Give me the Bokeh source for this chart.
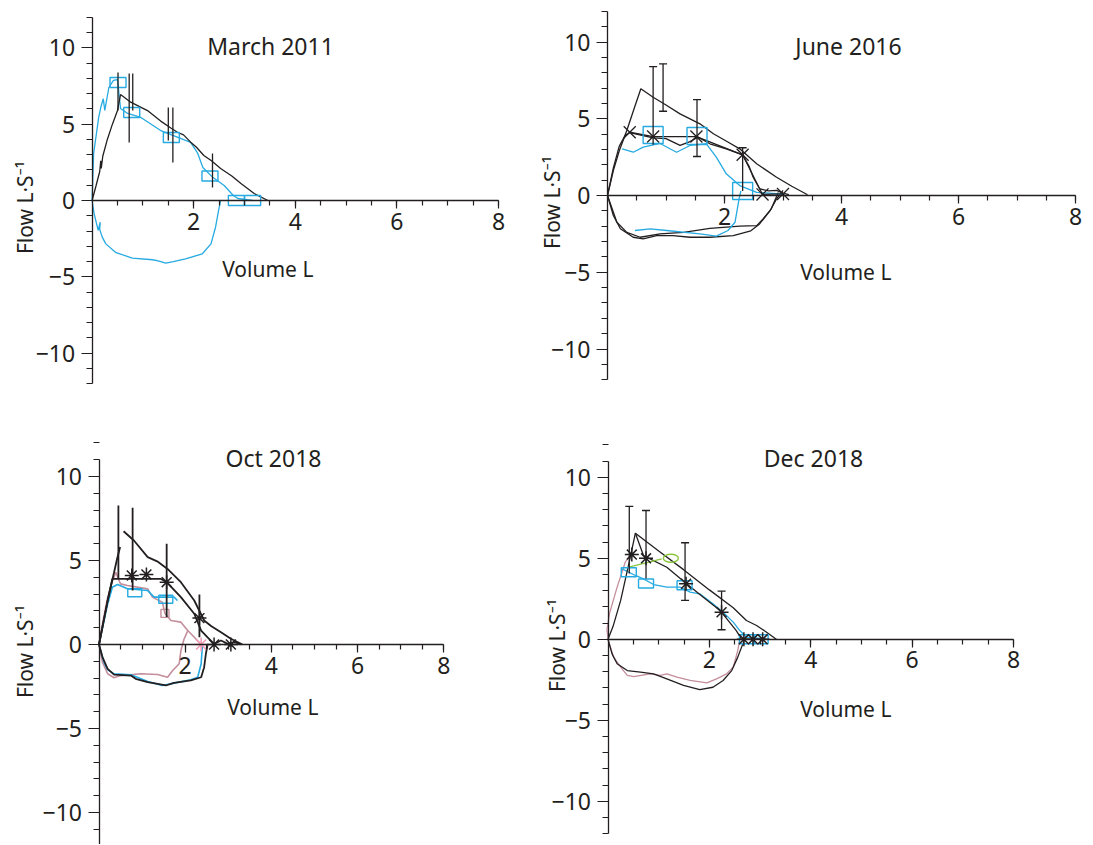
import numpy as np
from bokeh.plotting import figure
from bokeh.layouts import column, row
from bokeh.models import FixedTicker, Label
from bokeh.embed import file_html
from bokeh.resources import INLINE

FONT = "Noto Sans"
BLACK = "#231f20"
BLUE = "#27aae1"
PINK = "#c48e9c"
PINK_STAR = "#f29bb3"
GREEN = "#8cc63f"

# ---------------- axis ticks ----------------
x_major_ticks = [2, 4, 6, 8]
x_minor_ticks = [0.5, 1, 1.5, 2, 2.5, 3, 3.5, 4, 4.5, 5, 5.5, 6, 6.5, 7, 7.5, 8]
y_major_ticks = [-10, -5, 0, 5, 10]
y_minor_ticks = [-12, -11, -10, -9, -8, -7, -6, -5, -4, -3, -2, -1, 0,
                 1, 2, 3, 4, 5, 6, 7, 8, 9, 10, 11, 12]
y_label_overrides = {-10: "\u221210", -5: "\u22125"}

# ---------------- March 2011 ----------------
m11_black_x = [0, 0.08, 0.15, 0.17, 0.18, 0.21, 0.3, 0.4, 0.5, 0.56, 0.76, 1.09, 1.35, 1.55, 1.68, 1.8,
               1.94, 2.05, 2.2, 2.35, 2.53, 2.75, 2.93, 3.19, 3.46]
m11_black_y = [0, 1.0, 1.9, 2.6, 2.1, 2.9, 4.0, 5.0, 5.9, 6.94, 6.44, 5.89, 5.2, 4.75, 4.47, 4.3,
               3.82, 3.5, 2.95, 2.6, 2.1, 1.6, 1.11, 0.46, 0.0]
m11_blue_exp_x = [0, 0.03, 0.13, 0.17, 0.22, 0.25, 0.33, 0.42, 0.5, 0.56, 0.7, 0.96, 1.35, 1.69, 1.94,
                  2.08, 2.18, 2.38, 2.6, 2.78, 2.87, 3.16]
m11_blue_exp_y = [0, 3.08, 5.44, 6.09, 6.66, 5.9, 7.4, 7.86, 7.92, 6.02, 5.7, 5.44, 4.58, 4.13, 3.8,
                  3.08, 2.16, 1.5, 0.98, 0.33, 0.13, 0.0]
m11_blue_insp_x = [0, 0.04, 0.12, 0.16, 0.15, 0.2, 0.27, 0.46, 0.79, 1.19, 1.3, 1.45, 1.6, 1.84, 2.17,
                   2.34, 2.43, 2.49, 2.53]
m11_blue_insp_y = [0, -0.87, -1.95, -1.42, -1.9, -2.4, -2.84, -3.39, -3.78, -3.88, -3.95, -4.1, -4.0,
                   -3.82, -3.49, -2.84, -1.75, -0.65, 0]
m11_box_x = [0.51, 0.78, 1.56, 2.32, 2.84, 3.16]
m11_box_y = [7.73, 5.76, 4.13, 1.6, 0.0, 0.0]
m11_err_x = [0.51, 0.73, 0.80, 1.5, 1.59, 2.37]
m11_err_hi = [8.38, 8.32, 8.32, 6.09, 6.09, 3.08]
m11_err_lo = [5.89, 3.8, 5.89, 3.93, 2.49, 0.85]

# ---------------- June 2016 ----------------
j16_outer_x = [0, 0.1, 0.2, 0.33, 0.45, 0.57, 0.78, 1.0, 1.24, 1.58, 1.81, 2.05, 2.26, 2.55, 2.89, 3.15, 3.42]
j16_outer_y = [0, 1.63, 2.9, 4.23, 5.6, 6.95, 6.4, 5.9, 5.32, 4.67, 4.02, 3.5, 3.04, 2.07, 1.19, 0.6, 0.05]
j16_inner_x = [0, 0.1, 0.2, 0.3, 0.38, 0.55, 0.78, 1.0, 1.24, 1.4, 1.55, 1.75, 2.03, 2.31, 2.42, 2.49,
               2.6, 2.75, 2.89, 3.0, 3.1]
j16_inner_y = [0, 1.8, 3.2, 3.9, 4.1, 3.95, 3.75, 3.7, 3.26, 3.5, 3.8, 3.37, 3.04, 2.65, 1.9, 1.19,
               0.44, 0.3, 0.33, 0.15, 0.05]
j16_mark_x = [0.38, 0.78, 1.52, 2.31, 2.65, 3.0]
j16_mark_y = [4.12, 3.84, 3.84, 2.65, 0.07, 0.1]
j16_blue_exp_x = [0.25, 0.44, 0.61, 0.9, 1.18, 1.41, 1.69, 1.86, 2.03, 2.26, 2.55, 2.94, 3.03]
j16_blue_exp_y = [3.04, 2.82, 3.15, 3.39, 2.82, 3.26, 3.37, 2.5, 1.41, 0.65, 0.21, 0.11, 0.0]
j16_blue_insp_x = [2.28, 2.25, 2.18, 2.06, 1.86, 1.58, 1.01, 0.73, 0.47]
j16_blue_insp_y = [0.3, -0.21, -1.74, -2.28, -2.65, -2.5, -2.28, -2.17, -2.28]
j16_loopA_x = [0, 0.1, 0.22, 0.44, 0.61, 0.84, 1.12, 1.41, 1.75, 2.15, 2.45, 2.6, 2.78, 2.89, 3.0]
j16_loopA_y = [0, -1.3, -2.17, -2.72, -2.83, -2.61, -2.61, -2.72, -2.72, -2.61, -2.3, -1.85, -0.98, -0.22, 0.33]
j16_loopB_x = [0, 0.16, 0.33, 0.56, 0.9, 1.3, 1.75, 2.26, 2.55, 2.66, 2.8, 2.86, 2.92]
j16_loopB_y = [0, -1.74, -2.4, -2.72, -2.5, -2.4, -2.14, -2.0, -1.96, -1.52, -0.87, -0.33, 0.2]
j16_box_x = [0.78, 1.53, 2.31]
j16_box_y = [3.94, 3.88, 0.29]
j16_err_x = [0.78, 0.95, 1.53, 2.31]
j16_err_hi = [8.4, 8.58, 6.25, 3.11]
j16_err_lo = [3.3, 5.49, 2.54, 0.3]

# ---------------- Oct 2018 ----------------
o18_rise_x = [0, 0.1, 0.2, 0.35, 0.42, 0.49]
o18_rise_y = [0, 1.3, 2.6, 4.3, 5.1, 5.8]
o18_outer_x = [0.57, 0.81, 1.13, 1.35, 1.59, 1.9, 2.21, 2.44, 2.6, 2.83, 3.06, 3.33]
o18_outer_y = [6.74, 6.19, 5.2, 4.95, 4.5, 3.71, 2.62, 1.43, 1.1, 0.73, 0.34, 0]
o18_inner_x = [0, 0.1, 0.2, 0.31, 0.6, 1.0, 1.43, 1.57, 1.9, 2.21, 2.37, 2.52, 2.67, 2.83, 2.99, 3.14, 3.3]
o18_inner_y = [0, 1.3, 2.6, 3.91, 3.91, 3.91, 3.91, 3.71, 2.82, 1.83, 0.83, 0.43, 0.04, 0.24, 0.04, 0.14, 0]
o18_black_insp_x = [0, 0.08, 0.2, 0.35, 0.74, 0.85, 1.13, 1.36, 1.55, 1.74, 2.13, 2.37, 2.44, 2.48, 2.52]
o18_black_insp_y = [0, -0.75, -1.45, -1.79, -1.85, -2.04, -2.24, -2.34, -2.44, -2.28, -2.14, -1.95, -1.35, -0.55, 0]
o18_blue_exp_x = [0, 0.1, 0.2, 0.31, 0.43, 0.66, 1.13, 1.28, 1.74, 1.82]
o18_blue_exp_y = [0, 1.2, 2.4, 3.41, 3.57, 3.32, 3.21, 2.82, 2.82, 2.62]
o18_blue_insp_x = [0, 0.12, 0.2, 0.35, 0.74, 1.13, 1.47, 1.74, 2.13, 2.29, 2.37, 2.4]
o18_blue_insp_y = [0, -1.1, -1.5, -1.75, -1.8, -2.2, -2.44, -2.3, -2.1, -1.95, -1.15, 0]
o18_pink_exp_x = [0, 0.1, 0.2, 0.3, 0.39, 0.45, 0.5, 0.66, 1.13, 1.24, 1.47, 1.53, 1.67, 1.9, 2.06, 2.21, 2.37]
o18_pink_exp_y = [0, 1.5, 2.8, 3.7, 4.3, 3.9, 3.61, 3.51, 3.31, 2.82, 2.52, 1.85, 1.43, 1.33, 0.83, 0.43, 0]
o18_pink_insp_x = [0, 0.08, 0.2, 0.35, 0.5, 0.97, 1.36, 1.59, 1.71, 1.86, 1.9, 1.97, 2.06]
o18_pink_insp_y = [0, -1.05, -1.74, -1.98, -1.85, -1.74, -1.79, -1.95, -1.55, -1.15, -0.36, 0.3, 0.83]
o18_star_x = [0.76, 1.1, 1.57, 2.33, 2.67, 3.06]
o18_star_y = [4.11, 4.17, 3.71, 1.57, 0, 0]
o18_pink_star_x = [2.37]
o18_pink_star_y = [0]
o18_box_x = [0.83, 1.55]
o18_box_y = [3.08, 2.69]
o18_pink_box_x = [1.53]
o18_pink_box_y = [1.85]
o18_err_x = [0.45, 0.78, 1.57, 2.33]
o18_err_hi = [8.27, 8.14, 5.99, 2.98]
o18_err_lo = [3.91, 3.21, 1.63, 0.43]

# ---------------- Dec 2018 ----------------
d18_outer_x = [0, 0.1, 0.25, 0.44, 0.54, 1.0, 1.49, 2.0, 2.47, 2.73, 2.93, 3.1, 3.32]
d18_outer_y = [0, 0.8, 2.4, 5.07, 6.55, 5.45, 4.3, 3.05, 1.95, 1.16, 0.85, 0.5, 0]
d18_inner_x = [0.54, 0.7, 1.16, 1.55, 1.88, 2.21, 2.53, 2.63]
d18_inner_y = [6.55, 5.17, 4.45, 3.43, 2.6, 1.78, 0.54, 0.03]
d18_black_insp_x = [0, 0.08, 0.18, 0.38, 0.64, 0.9, 1.16, 1.49, 1.81, 2.07, 2.27, 2.44, 2.56, 2.66, 2.7]
d18_black_insp_y = [0, -0.9, -1.51, -1.93, -2.03, -2.13, -2.44, -2.85, -3.1, -2.96, -2.54, -1.93, -1.1, -0.28, 0]
d18_pink_exp_x = [0, -0.02, 0.03, 0.18, 0.34, 0.42]
d18_pink_exp_y = [0, 0.6, 1.6, 3.22, 4.76, 5.1]
d18_pink_insp_x = [0, 0.11, 0.25, 0.38, 0.51, 0.83, 1.03, 1.16, 1.36, 1.62, 1.95, 2.14, 2.34, 2.47, 2.56, 2.6]
d18_pink_insp_y = [0, -1.1, -1.72, -2.23, -2.3, -2.13, -2.23, -2.13, -2.34, -2.54, -2.69, -2.44, -2.13, -1.72, -0.69, 0]
d18_blue_x = [0.28, 0.54, 0.7, 0.9, 1.16, 1.42, 1.62, 1.81, 2.07, 2.27, 2.47, 2.6, 2.73, 3.12]
d18_blue_y = [4.35, 3.94, 3.73, 3.38, 3.22, 3.22, 2.91, 2.81, 2.19, 1.67, 1.06, 0.54, 0.13, 0.03]
d18_box_x = [0.41, 0.75, 1.51, 2.74, 3.01]
d18_box_y = [4.14, 3.44, 3.34, 0, 0]
d18_star_x = [0.47, 0.75, 1.54, 2.24, 2.68, 2.86, 3.05]
d18_star_y = [5.23, 5.0, 3.43, 1.67, 0, 0, 0]
d18_err_x = [0.42, 0.75, 1.52, 2.24]
d18_err_hi = [8.2, 7.95, 5.96, 2.97]
d18_err_lo = [4.06, 3.75, 2.4, 0.59]
d18_green_x = [0.41, 1.06]
d18_green_y = [4.45, 4.97]
d18_green_oval_x = [1.24]
d18_green_oval_y = [5.0]


def make_panel(ox, oy, w, h, x0, sx, y0, sy, ybounds):
    """ox, oy: page position of the figure; x0, y0: page pixel of data origin; sx, sy: px per unit."""
    xr = ((ox - x0) / sx, (ox + w - x0) / sx)
    yr = ((y0 - oy - h) / sy, (y0 - oy) / sy)
    p = figure(width=w, height=h, x_range=xr, y_range=yr, output_backend="svg",
               toolbar_location=None, min_border=0, outline_line_color=None,
               background_fill_color="white", border_fill_color="white")
    p.grid.visible = False
    xa = p.xaxis[0]
    ya = p.yaxis[0]
    xa.fixed_location = 0
    ya.fixed_location = 0
    xa.bounds = (0, 8)
    ya.bounds = ybounds
    xa.ticker = FixedTicker(ticks=x_major_ticks, minor_ticks=x_minor_ticks)
    ya.ticker = FixedTicker(ticks=y_major_ticks, minor_ticks=y_minor_ticks)
    ya.major_label_overrides = y_label_overrides
    for ax in (xa, ya):
        ax.axis_line_color = BLACK
        ax.axis_line_width = 1.3
        ax.major_tick_line_color = BLACK
        ax.minor_tick_line_color = BLACK
        ax.major_tick_line_width = 1.2
        ax.minor_tick_line_width = 1.2
        ax.major_tick_in = 0
        ax.minor_tick_in = 0
        ax.major_label_text_font = FONT
        ax.major_label_text_font_size = "23px"
        ax.major_label_text_color = BLACK
    xa.major_tick_out = 8
    xa.minor_tick_out = 5
    xa.major_label_standoff = 4
    ya.major_tick_out = 11
    ya.minor_tick_out = 6
    ya.major_label_standoff = 6
    geom = (x0, sx, y0, sy)
    return p, geom


def add_text(p, geom, px, py, text, size, angle=0.0, align="center", baseline="middle"):
    x0, sx, y0, sy = geom
    p.add_layout(Label(x=(px - x0) / sx, y=(y0 - py) / sy, text=text, angle=angle,
                       text_font=FONT, text_font_size=size, text_color=BLACK,
                       text_align=align, text_baseline=baseline))


def add_labels(p, geom, title, tpos, vpos, fpos):
    add_text(p, geom, tpos[0], tpos[1], title, "23px")
    add_text(p, geom, vpos[0], vpos[1], "Volume  L", "21px")
    add_text(p, geom, fpos[0], fpos[1], "Flow L\u00b7S\u207b\u00b9", "21px", angle=np.pi / 2)


def curve(p, xs, ys, color, width=1.3):
    p.line(xs, ys, line_color=color, line_width=width)


def boxes(p, xs, ys, w, h, color=BLUE):
    p.rect(xs, ys, width=w, height=h, width_units="screen", height_units="screen",
           fill_color=None, line_color=color, line_width=1.4)


def bars(p, xs, lo, hi, width=1.3):
    p.segment(x0=xs, y0=lo, x1=xs, y1=hi, line_color=BLACK, line_width=width)


def caps(p, xs, ys):
    p.scatter(xs, ys, marker="dash", size=8, line_color=BLACK, line_width=1.3)


W1, W2 = 538, 555
H1, H2 = 438, 406

# ---- Panel 1: March 2011 ----
p1, g1 = make_panel(0, 0, W1, H1, 91.6, 50.8, 200.0, 15.27, (-12, 12))
curve(p1, m11_blue_insp_x, m11_blue_insp_y, BLUE)
curve(p1, m11_blue_exp_x, m11_blue_exp_y, BLUE)
curve(p1, m11_black_x, m11_black_y, BLACK)
boxes(p1, m11_box_x, m11_box_y, 16, 10)
bars(p1, m11_err_x, m11_err_lo, m11_err_hi)
add_labels(p1, g1, "March 2011", (270, 45), (270, 268), (24, 207))

# ---- Panel 2: June 2016 ----
p2, g2 = make_panel(W1, 0, W2, H1, 607.0, 58.5, 195.0, 15.35, (-12, 12))
curve(p2, j16_loopA_x, j16_loopA_y, BLACK)
curve(p2, j16_loopB_x, j16_loopB_y, BLACK)
curve(p2, j16_blue_insp_x, j16_blue_insp_y, BLUE)
curve(p2, j16_blue_exp_x, j16_blue_exp_y, BLUE)
curve(p2, j16_outer_x, j16_outer_y, BLACK)
curve(p2, j16_inner_x, j16_inner_y, BLACK)
curve(p2, j16_mark_x, j16_mark_y, BLACK)
p2.scatter(j16_mark_x, j16_mark_y, marker="x", size=17, line_color=BLACK, line_width=1.3)
boxes(p2, j16_box_x, j16_box_y, 20, 17)
bars(p2, j16_err_x, j16_err_lo, j16_err_hi)
caps(p2, j16_err_x, j16_err_hi)
caps(p2, j16_err_x[1:3], j16_err_lo[1:3])
add_labels(p2, g2, "June 2016", (848, 45), (848, 271), (551, 202))

# ---- Panel 3: Oct 2018 ----
p3, g3 = make_panel(0, H1, W1, H2, 98.5, 43.1, 644.0, 16.8, (-12, 11))
curve(p3, o18_pink_insp_x, o18_pink_insp_y, PINK, 1.6)
curve(p3, o18_pink_exp_x, o18_pink_exp_y, PINK, 1.6)
curve(p3, o18_blue_insp_x, o18_blue_insp_y, BLUE, 1.6)
curve(p3, o18_blue_exp_x, o18_blue_exp_y, BLUE, 1.6)
curve(p3, o18_black_insp_x, o18_black_insp_y, BLACK, 1.8)
curve(p3, o18_rise_x, o18_rise_y, BLACK, 1.8)
curve(p3, o18_outer_x, o18_outer_y, BLACK, 1.8)
curve(p3, o18_inner_x, o18_inner_y, BLACK, 1.8)
boxes(p3, o18_box_x, o18_box_y, 14, 8)
boxes(p3, o18_pink_box_x, o18_pink_box_y, 8, 8, PINK)
bars(p3, o18_err_x, o18_err_lo, o18_err_hi, 1.8)
p3.scatter(o18_star_x, o18_star_y, marker="asterisk", size=14, line_color=BLACK, line_width=1.5)
p3.scatter(o18_pink_star_x, o18_pink_star_y, marker="asterisk", size=14, line_color=PINK_STAR,
           line_width=1.5)
add_labels(p3, g3, "Oct 2018", (273, 457), (275, 706), (24, 651))

# ---- Panel 4: Dec 2018 ----
p4, g4 = make_panel(W1, H1, W2, H2, 607.5, 50.7, 638.8, 16.2, (-12, 11))
curve(p4, d18_pink_insp_x, d18_pink_insp_y, PINK)
curve(p4, d18_pink_exp_x, d18_pink_exp_y, PINK)
curve(p4, d18_black_insp_x, d18_black_insp_y, BLACK)
curve(p4, d18_blue_x, d18_blue_y, BLUE)
curve(p4, d18_outer_x, d18_outer_y, BLACK)
curve(p4, d18_inner_x, d18_inner_y, BLACK)
curve(p4, d18_green_x, d18_green_y, GREEN)
p4.ellipse(d18_green_oval_x, d18_green_oval_y, width=15, height=8, width_units="screen",
           height_units="screen", fill_color=None, line_color=GREEN, line_width=1.4)
boxes(p4, d18_box_x, d18_box_y, 15, 9)
bars(p4, d18_err_x, d18_err_lo, d18_err_hi)
caps(p4, d18_err_x, d18_err_hi)
caps(p4, d18_err_x[2:], d18_err_lo[2:])
p4.scatter(d18_star_x, d18_star_y, marker="asterisk", size=14, line_color=BLACK, line_width=1.5)
add_labels(p4, g4, "Dec 2018", (813, 457), (848, 708), (556, 645))

layout = column(row(p1, p2), row(p3, p4))
open("out.html", "w").write(file_html(layout, INLINE))
